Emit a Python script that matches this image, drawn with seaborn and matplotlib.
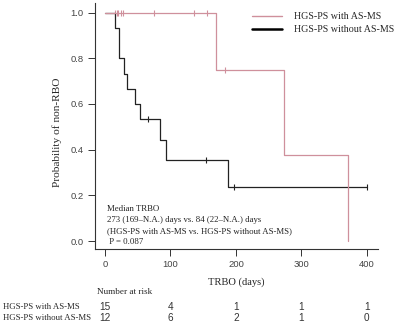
import matplotlib
matplotlib.use('Agg')
import matplotlib.pyplot as plt
from matplotlib.lines import Line2D
from matplotlib.transforms import blended_transform_factory
import seaborn as sns
import numpy as np
import pandas as pd

# ---------------------------------------------------------------------------
# data
# ---------------------------------------------------------------------------
GROUPS = ['HGS-PS with AS-MS', 'HGS-PS without AS-MS']

# step curve: event times and survival after each step (last point = end of follow up)
with_t = [0, 169, 273, 371]
with_s = [1.0, 0.75, 0.375, 0.0]
with_cens_t = [15, 18, 20, 24, 28, 75, 136, 156, 183]
with_cens_s = [1.0, 1.0, 1.0, 1.0, 1.0, 1.0, 1.0, 1.0, 0.75]

wo_t = [0, 15, 21, 29, 33, 46, 54, 84, 93, 188, 400]
wo_s = [1.0, 0.933, 0.8, 0.733, 0.667, 0.6, 0.533, 0.444, 0.356, 0.237, 0.237]
wo_cens_t = [65, 154, 197, 400]
wo_cens_s = [0.533, 0.356, 0.237, 0.237]

risk_times = [0, 100, 200, 300, 400]
risk_with = [15, 4, 1, 1, 1]
risk_wo = [12, 6, 2, 1, 0]

PINK = '#cf909c'
DARK = '#222222'
SERIF = ['Liberation Serif', 'DejaVu Serif']
SANS = ['Liberation Sans', 'DejaVu Sans']

sns.set_style('ticks')
plt.rcParams['font.family'] = SANS

curves = pd.concat([
    pd.DataFrame({'t': with_t, 's': with_s, 'grp': GROUPS[0]}),
    pd.DataFrame({'t': wo_t, 's': wo_s, 'grp': GROUPS[1]}),
])
cens = pd.concat([
    pd.DataFrame({'t': with_cens_t, 's': with_cens_s, 'grp': GROUPS[0]}),
    pd.DataFrame({'t': wo_cens_t, 's': wo_cens_s, 'grp': GROUPS[1]}),
])
pal = {GROUPS[0]: PINK, GROUPS[1]: DARK}

fig = plt.figure(figsize=(4.0, 3.26), dpi=100)
ax = fig.add_axes([95/400, 1 - 249/326, (378 - 95)/400, (249 - 3)/326])

# draw the darker group first so the pink line sits on top at 1.0
for g in GROUPS[::-1]:
    sns.lineplot(data=curves[curves.grp == g], x='t', y='s', color=pal[g],
                 drawstyle='steps-post', estimator=None, lw=0.9, ax=ax,
                 legend=False)
    sns.scatterplot(data=cens[cens.grp == g], x='t', y='s', color=pal[g],
                    marker='|', s=22, linewidth=0.8, ax=ax, legend=False)

ax.set_xlim(-15.3, 417)
ax.set_ylim(-0.035, 1.042)
ax.set_xticks(risk_times)
ax.set_yticks([0.0, 0.2, 0.4, 0.6, 0.8, 1.0])
ax.set_yticklabels(['0.0', '0.2', '0.4', '0.6', '0.8', '1.0'])
ax.tick_params(labelsize=6.8, length=5, width=0.7, pad=3, colors='#333333')
ax.tick_params(labelcolor='#444444')
for sp in ['top', 'right']:
    ax.spines[sp].set_visible(False)
for sp in ['left', 'bottom']:
    ax.spines[sp].set_linewidth(0.8)
    ax.spines[sp].set_color('#333333')

ax.set_xlabel('TRBO (days)', family=SERIF, fontsize=7.6, labelpad=6)
ax.set_ylabel('Probability of non-RBO', family=SERIF, fontsize=8.2)
ax.yaxis.set_label_coords(-33/283, (249 - 132)/246)

# legend
hnd = [Line2D([], [], color=PINK, lw=1.0), Line2D([], [], color='black', lw=1.8)]
fig.legend(hnd, GROUPS, loc='upper left', bbox_to_anchor=(252/400, 1 - 12/326),
           frameon=False, prop={'family': SERIF, 'size': 7.2},
           handlelength=3.0, handletextpad=1.2, labelspacing=0.45,
           borderpad=0, borderaxespad=0)

# annotation block
note = ['Median TRBO',
        '273 (169\u2013N.A.) days vs. 84 (22\u2013N.A.) days',
        '(HGS-PS with AS-MS vs. HGS-PS without AS-MS)',
        ' P = 0.087']
for i, line in enumerate(note):
    fig.text(107/400, 1 - (209 + 11*i)/326, line, family=SERIF, fontsize=6.3,
             va='center', ha='left', color='#222222')

# number at risk table
tr = blended_transform_factory(ax.transData, fig.transFigure)
fig.text(97/400, 1 - 292/326, 'Number at risk', family=SERIF, fontsize=6.6,
         va='center', ha='left')
for row, (lab, vals) in enumerate(zip(GROUPS, [risk_with, risk_wo])):
    yy = 1 - (307 + 11*row)/326
    fig.text(3/400, yy, lab, family=SERIF, fontsize=6.3, va='center', ha='left')
    for t, v in zip(risk_times, vals):
        ax.text(t, yy, str(v), transform=tr, fontsize=7.2, ha='center',
                va='center', color='#333333', clip_on=False)

fig.savefig('out.png', dpi=100)
